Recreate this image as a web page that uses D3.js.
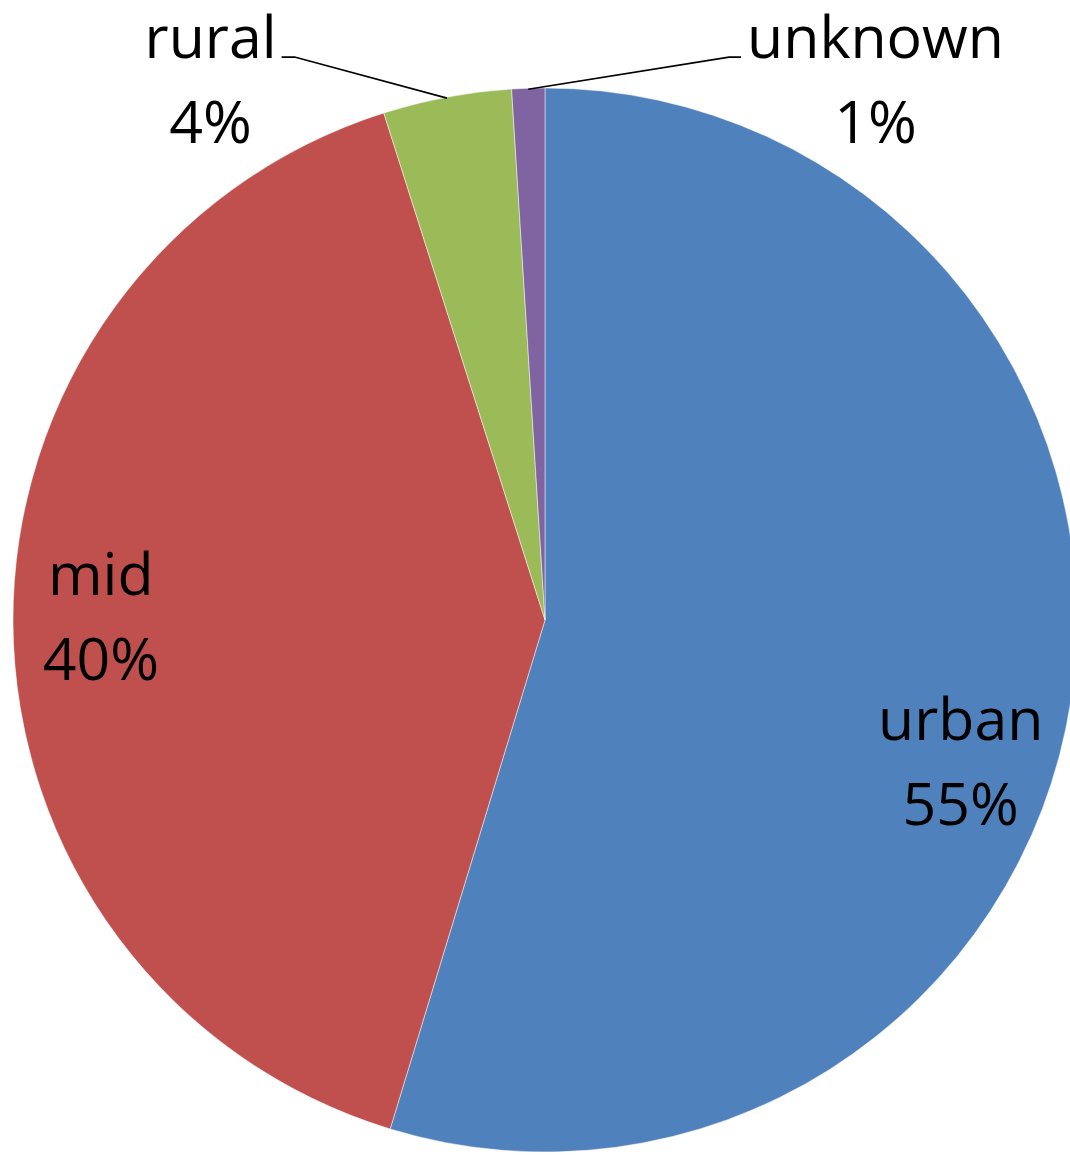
<!DOCTYPE html>
<html>
<head>
<meta charset="utf-8">
<title>pie</title>
<style>
  body { margin: 0; background: #fff; }
  svg { display: block; }
  .lbl { font-family: "Open Sans", "Noto Sans", sans-serif; font-size: 59px; fill: #000; }
</style>
</head>
<body>
<div id="chart"></div>
<script src="https://cdn.jsdelivr.net/npm/d3@7"></script>
<script>
  // data (share of the circle, %)
  var categories = ['urban', 'mid', 'rural', 'unknown'];
  var values = [54.7, 40.4, 3.9, 1.0];
  var shownPct = ['55%', '40%', '4%', '1%'];
  var colors = ['#4F81BD', '#C0504D', '#9BBB59', '#8064A2'];

  var width = 1070, height = 1155;
  var cx = 545, cy = 620, r = 532;

  var svg = d3.select('#chart').append('svg')
    .attr('width', width).attr('height', height);

  var g = svg.append('g').attr('transform', 'translate(' + cx + ',' + cy + ')');

  var pie = d3.pie().sort(null).value(function(d) { return d.v; });
  var arcs = pie(categories.map(function(c, i) { return { name: c, v: values[i], pct: shownPct[i], col: colors[i] }; }));

  var arc = d3.arc().innerRadius(0).outerRadius(r);

  g.selectAll('path.slice')
    .data(arcs)
    .enter()
    .append('path')
    .attr('class', 'slice')
    .attr('d', arc)
    .attr('fill', function(d) { return d.data.col; })
    .attr('stroke', '#fff')
    .attr('stroke-width', 0.8)
    .attr('stroke-opacity', 0.6);

  // polar helper, angle from 12 o'clock clockwise
  function polar(a, rad) { return [Math.sin(a) * rad, -Math.cos(a) * rad]; }
  var deg = Math.PI / 180;

  // label placement: inside ones near the rim, small ones outside with a leader
  var labelPos = {
    urban:   { inside: true,  ang: 108.9 * deg, rad: 0.826 * r },
    mid:     { inside: true,  ang: 270.3 * deg, rad: 0.835 * r },
    rural:   { inside: false, ang: -31.8 * deg, rad: 1.193 * r },
    unknown: { inside: false, ang: 31.5 * deg,  rad: 1.189 * r }
  };

  var lineGap = 85;

  arcs.forEach(function(d) {
    var lp = labelPos[d.data.name];
    var mid = (d.startAngle + d.endAngle) / 2;
    var p = polar(lp.ang, lp.rad);
    var base = p[1] - lineGap / 2 + 20;
    var t = g.append('text').attr('class', 'lbl').attr('text-anchor', 'middle')
      .attr('x', p[0]).attr('y', base);
    t.append('tspan').attr('x', p[0]).text(d.data.name);
    t.append('tspan').attr('x', p[0]).attr('dy', lineGap).text(d.data.pct);

    if (!lp.inside) {
      // leader line from the first text line to the slice rim
      var rim = polar(mid, r);
      var y0 = base - 1;
      var toRight = rim[0] > p[0];
      var firstW = t.select('tspan').node().getComputedTextLength();
      var xEdge = toRight ? p[0] + firstW / 2 + 5 : p[0] - firstW / 2 - 6;
      var xBend = toRight ? xEdge + 13 : xEdge - 12;
      g.append('path')
        .attr('d', 'M' + xEdge + ',' + y0 + 'L' + xBend + ',' + y0 + 'L' + rim[0] + ',' + (rim[1] + 1))
        .attr('fill', 'none')
        .attr('stroke', '#000')
        .attr('stroke-width', 1.6);
    }
  });
</script>
</body>
</html>
